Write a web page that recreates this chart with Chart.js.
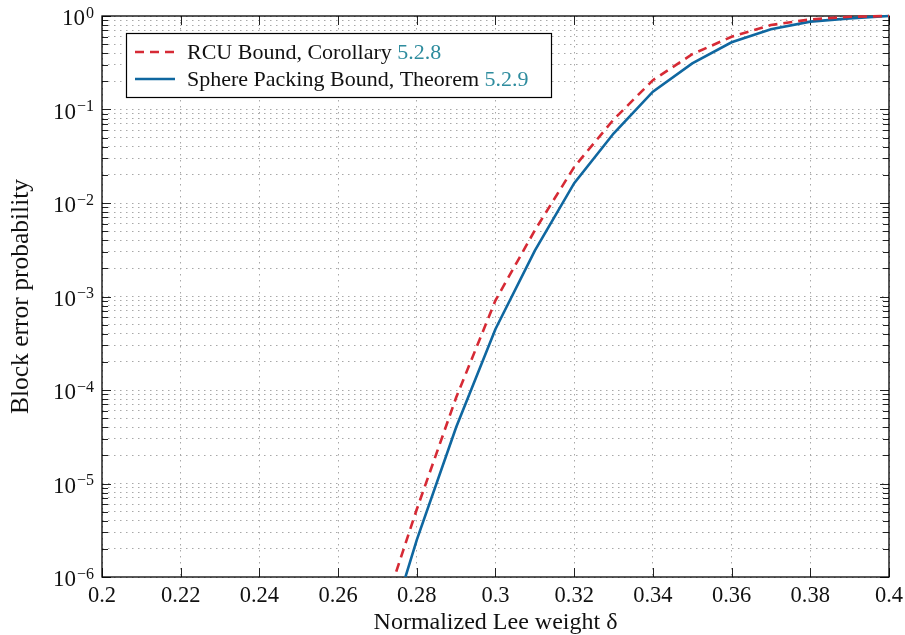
<!DOCTYPE html>
<html>
<head>
<meta charset="utf-8">
<script src="https://cdn.jsdelivr.net/npm/chart.js@4.4.1/dist/chart.umd.min.js"></script>
<style>
  html, body { margin: 0; padding: 0; background: #fff; }
  #wrap { width: 905px; height: 635px; }
</style>
</head>
<body>
<div id="wrap"><canvas id="leeChart" width="905" height="635"></canvas></div>
<script>
// normalized Lee weight (x) and the two bounds (y, log scale)
const delta = [0.27, 0.28, 0.29, 0.30, 0.31, 0.32, 0.33, 0.34, 0.35, 0.36, 0.37, 0.38, 0.39, 0.40];
const rcuBound = [2.8e-7, 5.3e-6, 8.3e-5, 9.1e-4, 5.1e-3, 2.43e-2, 7.8e-2, 0.206, 0.39, 0.60, 0.80, 0.92, 0.98, 1.0];
const spherePacking = [1.05e-7, 2.5e-6, 4.0e-5, 4.5e-4, 3.1e-3, 1.63e-2, 5.53e-2, 0.155, 0.311, 0.523, 0.72, 0.87, 0.944, 1.0];

const seriesNames = ['RCU Bound, Corollary', 'Sphere Packing Bound, Theorem'];
const seriesRefs = ['5.2.8', '5.2.9'];

const xTicks = [0.2, 0.22, 0.24, 0.26, 0.28, 0.3, 0.32, 0.34, 0.36, 0.38, 0.4];
const yExponents = [0, -1, -2, -3, -4, -5, -6];

const FONT = '"Liberation Serif", "DejaVu Serif", serif';
const RED = '#d62a35';
const BLUE = '#0f67a0';
const TEAL = '#2e8c9e';
const GRID = '#a8a8a8';

const toPoints = (ys) => delta.map((d, i) => ({ x: d, y: ys[i] }));

// inward ticks, frame and the 10^k labels (pgfplots look)
const axisFrame = {
  id: 'axisFrame',
  beforeDatasetsDraw(chart) {
    const { ctx, chartArea: a, scales } = chart;
    const x = scales.x;
    const y = scales.y;
    ctx.save();
    ctx.strokeStyle = '#222';
    ctx.lineWidth = 1;
    ctx.setLineDash([]);
    ctx.beginPath();
    xTicks.forEach((v) => {
      const px = Math.round(x.getPixelForValue(v)) + 0.5;
      ctx.moveTo(px, a.bottom); ctx.lineTo(px, a.bottom - 9);
      ctx.moveTo(px, a.top); ctx.lineTo(px, a.top + 9);
    });
    y.ticks.forEach((t) => {
      const py = Math.round(y.getPixelForValue(t.value)) + 0.5;
      const len = t.major ? 9 : 6;
      ctx.moveTo(a.left, py); ctx.lineTo(a.left + len, py);
      ctx.moveTo(a.right, py); ctx.lineTo(a.right - len, py);
    });
    ctx.stroke();

    ctx.lineWidth = 1.3;
    ctx.strokeStyle = '#000';
    ctx.strokeRect(a.left, a.top, a.right - a.left, a.bottom - a.top);

    // y labels with superscript exponents
    ctx.fillStyle = '#111';
    ctx.textBaseline = 'alphabetic';
    ctx.textAlign = 'left';
    yExponents.forEach((e) => {
      const py = y.getPixelForValue(Math.pow(10, e));
      const exp = e === 0 ? '0' : '\u2212' + (-e);
      ctx.font = '16px ' + FONT;
      const ew = ctx.measureText(exp).width;
      ctx.font = '23px ' + FONT;
      const bw = ctx.measureText('10').width;
      const right = 94;
      ctx.fillText('10', right - ew - bw - 1, py + 9);
      ctx.font = '16px ' + FONT;
      ctx.fillText(exp, right - ew, py + 1.5);
    });
    ctx.restore();
  },
  afterDatasetsDraw(chart) {
    const { ctx } = chart;
    const box = { left: 126, top: 33, width: 425, height: 64 };
    ctx.save();
    ctx.fillStyle = '#fff';
    ctx.fillRect(box.left, box.top, box.width, box.height);
    ctx.strokeStyle = '#000';
    ctx.lineWidth = 1.2;
    ctx.strokeRect(box.left + 0.5, box.top + 0.5, box.width, box.height);

    const rows = [52, 79];
    chart.data.datasets.forEach((ds, i) => {
      const ry = rows[i];
      ctx.strokeStyle = ds.borderColor;
      ctx.lineWidth = ds.borderWidth;
      ctx.setLineDash(ds.borderDash || []);
      ctx.beginPath();
      ctx.moveTo(135, ry);
      ctx.lineTo(175, ry);
      ctx.stroke();
      ctx.setLineDash([]);

      ctx.font = '22px ' + FONT;
      ctx.textBaseline = 'middle';
      ctx.textAlign = 'left';
      ctx.fillStyle = '#111';
      const name = seriesNames[i] + ' ';
      ctx.fillText(name, 187, ry + 1);
      ctx.fillStyle = TEAL;
      ctx.fillText(seriesRefs[i], 187 + ctx.measureText(name).width, ry + 1);
    });
    ctx.restore();
  }
};

new Chart(document.getElementById('leeChart').getContext('2d'), {
  type: 'line',
  data: {
    datasets: [
      {
        label: seriesNames[0] + ' ' + seriesRefs[0],
        data: toPoints(rcuBound),
        borderColor: RED,
        borderWidth: 2.6,
        borderDash: [9, 6],
        pointRadius: 0,
        tension: 0,
        fill: false,
        clip: { left: 0, top: 3, right: 3, bottom: 0 },
      },
      {
        label: seriesNames[1] + ' ' + seriesRefs[1],
        data: toPoints(spherePacking),
        borderColor: BLUE,
        borderWidth: 2.6,
        pointRadius: 0,
        tension: 0,
        fill: false,
        clip: { left: 0, top: 3, right: 3, bottom: 0 },
      },
    ],
  },
  options: {
    responsive: false,
    animation: false,
    layout: { padding: { left: 0, right: 16, top: 16, bottom: 0 } },
    plugins: {
      legend: { display: false },
      tooltip: { enabled: false },
    },
    scales: {
      x: {
        type: 'linear',
        min: 0.2,
        max: 0.4,
        afterBuildTicks(scale) {
          scale.ticks = xTicks.map((v) => ({ value: v }));
        },
        afterFit(scale) {
          scale.height = 58;
          scale.paddingLeft = 0;
          scale.paddingRight = 0;
        },
        grid: { color: GRID, lineWidth: 1, drawTicks: false },
        border: { display: false, dash: [1.5, 4.5] },
        ticks: {
          padding: 6,
          color: '#111',
          font: { family: FONT, size: 22.5 },
          maxRotation: 0,
          callback: (v) => String(+Number(v).toFixed(2)),
        },
        title: {
          display: true,
          text: 'Normalized Lee weight \u03b4',
          color: '#111',
          font: { family: FONT, size: 24, lineHeight: 1.05 },
          padding: { top: 0, bottom: 0 },
        },
      },
      y: {
        type: 'logarithmic',
        min: 1e-6,
        max: 1,
        afterBuildTicks(scale) {
          const ticks = [];
          for (let e = -6; e <= 0; e++) {
            for (let m = 1; m <= 9; m++) {
              const v = m * Math.pow(10, e);
              if (v <= 1.0000001) ticks.push({ value: v, major: m === 1 });
            }
          }
          scale.ticks = ticks;
        },
        afterFit(scale) {
          scale.width = 102;
          scale.paddingTop = 0;
          scale.paddingBottom = 0;
        },
        grid: { color: GRID, lineWidth: 1, drawTicks: false },
        border: { display: false, dash: [1.5, 4.5] },
        ticks: { display: false },
        title: {
          display: true,
          text: 'Block error probability',
          color: '#111',
          font: { family: FONT, size: 25.5 },
          padding: { top: 6, bottom: 0 },
        },
      },
    },
  },
  plugins: [axisFrame],
});
</script>
</body>
</html>
